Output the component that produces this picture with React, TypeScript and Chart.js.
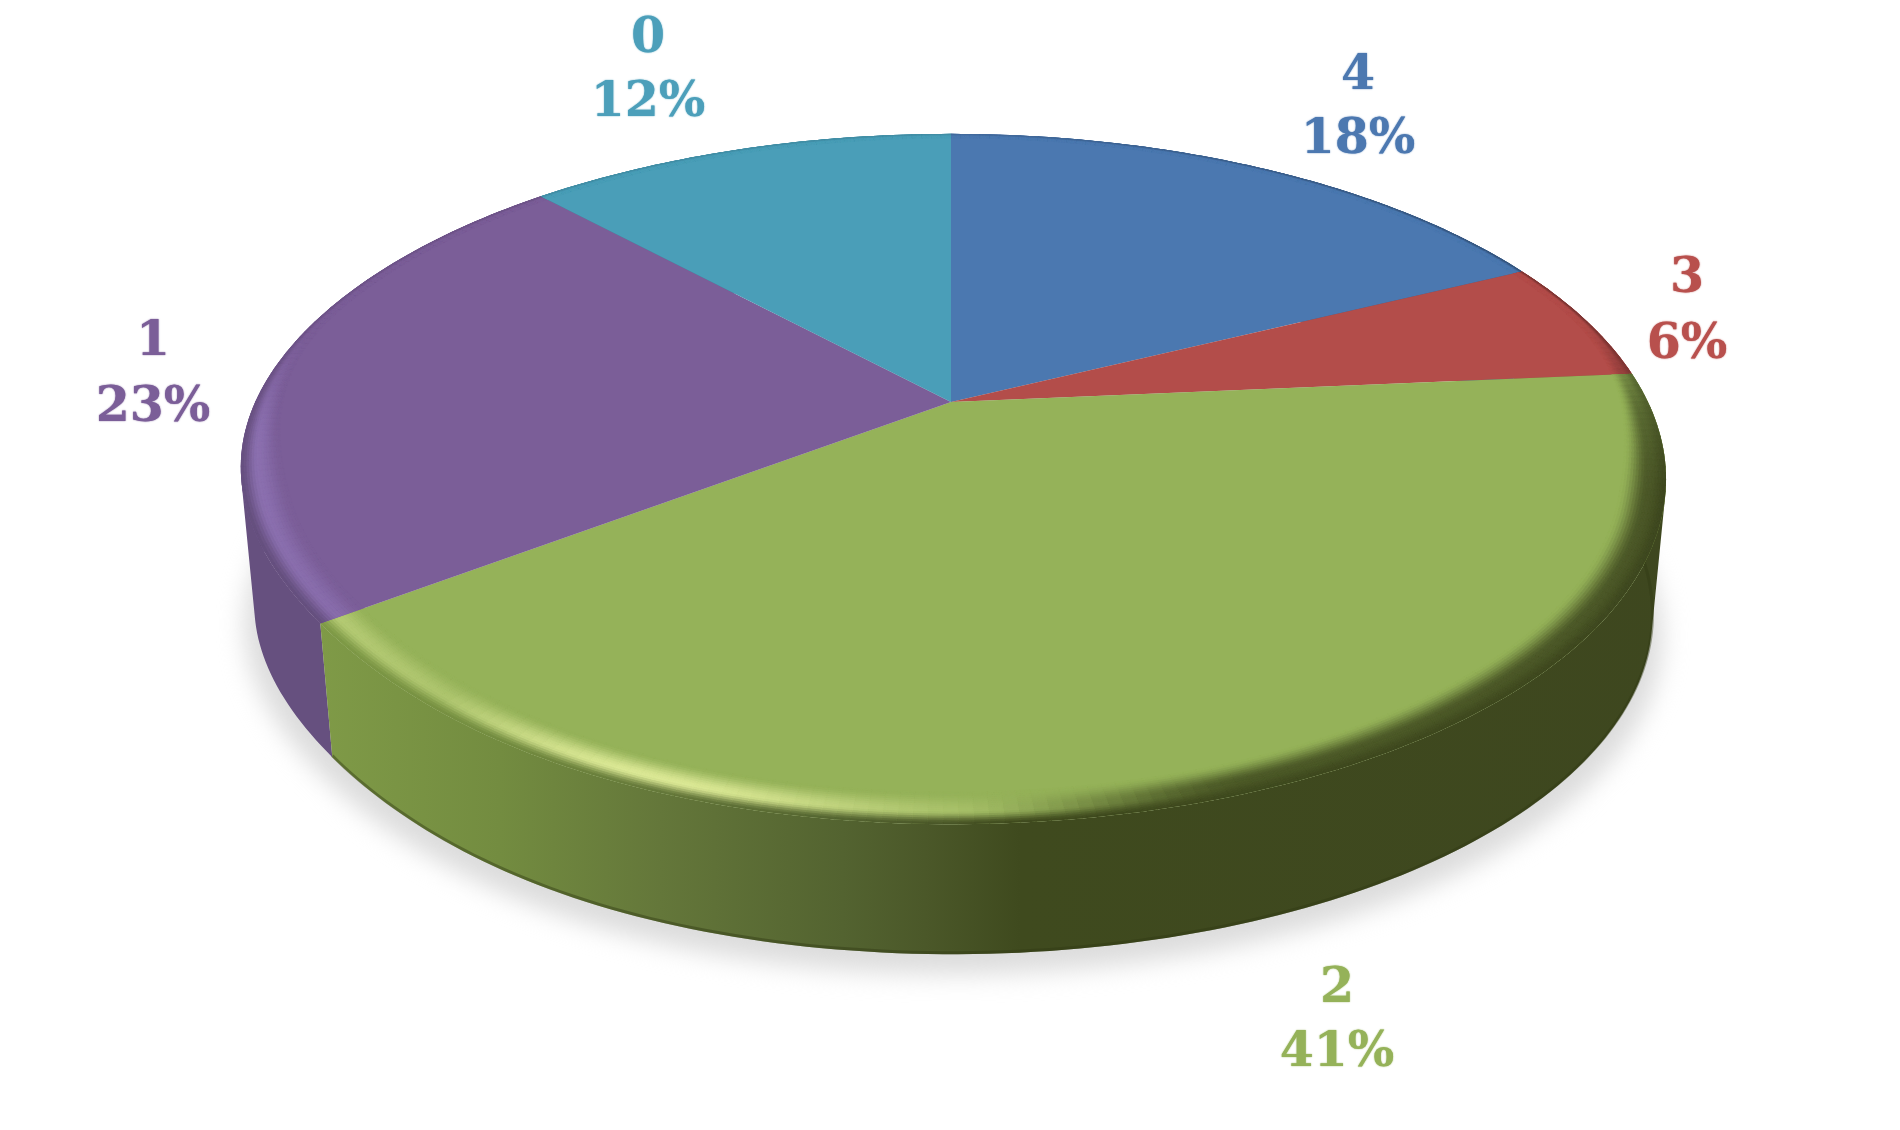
import React, { useEffect, useRef } from "react";
import { Chart, registerables } from "chart.js";

Chart.register(...registerables);

const categories = ["4", "3", "2", "1", "0"];
const shares = [17.8, 5.8, 41.2, 23.2, 12];
const faceColors = ["#4b78b0", "#b34d4a", "#95b259", "#7b5e98", "#4a9eb8"];
const lightColors = ["#6d98cc", "#d07370", "#dce996", "#9a80c4", "#70bdd4"];
const wallColors = ["#3c6090", "#8f3d3b", "#7f9a47", "#66507f", "#3b7f93"];
const labelColors = ["#4c78b0", "#b8504d", "#95b259", "#7b5e98", "#4c9fba"];
// label centres: x, y of the name line, y of the percent line
const labelSpots: [number, number, number][] = [
  [1358, 76, 140],
  [1687, 279, 345],
  [1337, 989, 1053],
  [153, 342, 408],
  [648, 39, 103],
];
const greenWallStops: [number, string][] = [
  [320, "#7f9a47"],
  [500, "#738c40"],
  [660, "#64773a"],
  [843, "#536330"],
  [925, "#4b5829"],
  [1020, "#3f4a1e"],
  [1700, "#3e471f"],
];

// perspective projection of the library's unit disc
const APEX_X = 951;
const APEX_Y = 402;
const SPREAD_X = 697;
const SPREAD_Y = 328;
const TILT = 0.2233;
const WALL_DROP = 138;
const WALL_SCALE = 0.981;
// the reference's outline is slightly flattened towards the lower left
const FLAT_ANGLE = (143 * Math.PI) / 180;
const FLAT_AMOUNT = 0.019;
const FLAT_SPREAD = 0.42;

type RGB = [number, number, number];
type Pt = [number, number];
const rgb = (h: string): RGB => [
  parseInt(h.slice(1, 3), 16),
  parseInt(h.slice(3, 5), 16),
  parseInt(h.slice(5, 7), 16),
];
const mix = (a: RGB, b: RGB, t: number): RGB => [
  a[0] + (b[0] - a[0]) * t,
  a[1] + (b[1] - a[1]) * t,
  a[2] + (b[2] - a[2]) * t,
];
const css = (c: RGB) => `rgb(${c[0] | 0},${c[1] | 0},${c[2] | 0})`;
const smooth = (e0: number, e1: number, x: number) => {
  const t = Math.min(1, Math.max(0, (x - e0) / (e1 - e0)));
  return t * t * (3 - 2 * t);
};

const topPoint = (a: number, r: number): Pt => {
  const d = Math.atan2(Math.sin(a - FLAT_ANGLE), Math.cos(a - FLAT_ANGLE));
  const rr = r * (1 - FLAT_AMOUNT * Math.exp(-Math.pow(d / FLAT_SPREAD, 2)));
  const u = Math.cos(a) * rr;
  const v = Math.sin(a) * rr;
  const w = 1 - TILT * v;
  return [APEX_X + (SPREAD_X * u) / w, APEX_Y + (SPREAD_Y * v) / w];
};
const basePoint = (a: number, extra = 0): Pt => {
  const [x, y] = topPoint(a, 1);
  return [
    APEX_X + (x - APEX_X) * WALL_SCALE,
    APEX_Y + WALL_DROP + extra + (y - APEX_Y) * WALL_SCALE,
  ];
};
const wallAt = (i: number, x: number): RGB => {
  if (categories[i] !== "2") return rgb(wallColors[i]);
  for (let k = 1; k < greenWallStops.length; k++) {
    const [x1, c1] = greenWallStops[k];
    const [x0, c0] = greenWallStops[k - 1];
    if (x <= x1) return mix(rgb(c0), rgb(c1), Math.max(0, (x - x0) / (x1 - x0)));
  }
  return rgb(greenWallStops[greenWallStops.length - 1][1]);
};
const addPoly = (ctx: CanvasRenderingContext2D, pts: Pt[]) => {
  pts.forEach((p, k) => (k ? ctx.lineTo(p[0], p[1]) : ctx.moveTo(p[0], p[1])));
  ctx.closePath();
};
const trace = (ctx: CanvasRenderingContext2D, pts: Pt[]) => {
  ctx.beginPath();
  addPoly(ctx, pts);
};
const area = (pts: Pt[]) =>
  pts.reduce((s, p, k) => {
    const q = pts[(k + 1) % pts.length];
    return s + p[0] * q[1] - q[0] * p[1];
  }, 0);
const samples = (a0: number, a1: number) => {
  const n = Math.max(4, Math.ceil(((a1 - a0) * 180) / Math.PI));
  return Array.from({ length: n + 1 }, (_, k) => a0 + ((a1 - a0) * k) / n);
};

const pie3d = {
  id: "pie3d",
  beforeDatasetsDraw(chart: any) {
    const ctx: CanvasRenderingContext2D = chart.ctx;
    const arcs = chart.getDatasetMeta(0).data;
    ctx.save();

    // soft ground shadow
    ctx.save();
    ctx.filter = "blur(12px)";
    ctx.fillStyle = "#dcdcdc";
    const ring = samples(0, Math.PI * 2).map((a) => {
      const [x, y] = basePoint(a, 20);
      return [APEX_X + (x - APEX_X) * 1.014, y] as Pt;
    });
    trace(ctx, ring);
    ctx.fill();
    ctx.restore();

    // walls, far to near
    const order = [0, 1, 4, 3, 2];
    order.forEach((i) => {
      const { startAngle, endAngle } = arcs[i];
      const as = samples(startAngle, endAngle);
      let paint: string | CanvasGradient = wallColors[i];
      if (categories[i] === "2") {
        const g = ctx.createLinearGradient(320, 0, 1700, 0);
        greenWallStops.forEach(([x, c]) => g.addColorStop((x - 320) / 1380, c));
        paint = g;
      }
      ctx.save();
      ctx.fillStyle = paint;
      ctx.beginPath();
      for (let s = 0; s < as.length - 1; s++) {
        const quad: Pt[] = [
          topPoint(as[s], 1),
          topPoint(as[s + 1], 1),
          basePoint(as[s + 1]),
          basePoint(as[s]),
        ];
        addPoly(ctx, area(quad) < 0 ? quad.reverse() : quad);
      }
      ctx.fill();
      if (categories[i] === "2") {
        ctx.beginPath();
        as.forEach((a, k) => {
          const p = basePoint(a, -1.5);
          k ? ctx.lineTo(p[0], p[1]) : ctx.moveTo(p[0], p[1]);
        });
        ctx.strokeStyle = "rgba(48,58,20,0.45)";
        ctx.lineWidth = 3;
        ctx.stroke();
      }
      ctx.restore();
    });

    // top faces with a bevelled rim
    const RINGS = 16;
    arcs.forEach((arc: any, i: number) => {
      const { startAngle, endAngle } = arc;
      const as = samples(startAngle, endAngle);
      const face = rgb(faceColors[i]);
      const light = rgb(lightColors[i]);
      ctx.save();
      trace(ctx, [[APEX_X, APEX_Y], ...as.map((a) => topPoint(a, 1))]);
      ctx.fillStyle = faceColors[i];
      ctx.fill();
      ctx.clip();
      ctx.lineWidth = 0.8;
      for (let s = 0; s < as.length - 1; s++) {
        const a0 = as[s];
        const a1 = as[s + 1];
        const mid = (a0 + a1) / 2;
        const u = Math.cos(mid);
        const v = Math.sin(mid);
        const [mx] = topPoint(mid, 1);
        const near = smooth(-0.3, 0.3, v);
        const width = 0.018 + 0.042 * near;
        const focus = Math.max(0, -0.35 * u + 0.937 * v);
        const glow = Math.max(
          Math.pow(focus, 20),
          0.55 * Math.max(0, -u) * smooth(-0.25, 0.15, v),
        );
        const wall = wallAt(i, mx);
        const edge = mix(
          mix(face, [0, 0, 0], 0.1 + 0.22 * Math.max(0, u)),
          wall,
          near,
        );
        let crest = mix(face, light, Math.min(1, glow));
        crest = mix(crest, edge, 0.85 * smooth(0.0, 0.35, u) * smooth(-0.3, 0.05, v));
        for (let j = 0; j < RINGS; j++) {
          const t0 = j / RINGS;
          const t1 = (j + 1) / RINGS;
          const tm = (t0 + t1) / 2;
          const c =
            tm < 0.6
              ? mix(face, crest, smooth(0, 0.6, tm))
              : mix(crest, edge, smooth(0.6, 1, tm));
          const r0 = 1 - width * (1 - t0);
          const r1 = 1 - width * (1 - t1);
          trace(ctx, [
            topPoint(a0, r0),
            topPoint(a1, r0),
            topPoint(a1, r1),
            topPoint(a0, r1),
          ]);
          const col = css(c);
          ctx.fillStyle = col;
          ctx.strokeStyle = col;
          ctx.fill();
          ctx.stroke();
        }
      }
      ctx.restore();
    });

    // labels
    ctx.font = 'bold 49px "DejaVu Serif"';
    ctx.textAlign = "center";
    ctx.textBaseline = "middle";
    categories.forEach((name, i) => {
      const [x, y0, y1] = labelSpots[i];
      ctx.fillStyle = labelColors[i];
      ctx.shadowColor = labelColors[i];
      ctx.shadowBlur = 1.5;
      ctx.fillText(name, x, y0);
      ctx.fillText(`${Math.round(shares[i])}%`, x, y1);
    });
    ctx.restore();
    return false;
  },
};

export default function App() {
  const ref = useRef<HTMLCanvasElement>(null);
  useEffect(() => {
    const chart = new Chart(ref.current!, {
      type: "pie",
      data: {
        labels: categories,
        datasets: [{ data: shares, backgroundColor: faceColors, borderWidth: 0 }],
      },
      options: {
        animation: false,
        responsive: false,
        events: [],
        plugins: { legend: { display: false }, tooltip: { enabled: false } },
      },
      plugins: [pie3d],
    } as any);
    return () => chart.destroy();
  }, []);
  return (
    <div style={{ position: "fixed", left: 0, top: 0, width: 1900, height: 1130, background: "#fff" }}>
      <canvas ref={ref} width={1900} height={1130} style={{ display: "block" }} />
    </div>
  );
}
